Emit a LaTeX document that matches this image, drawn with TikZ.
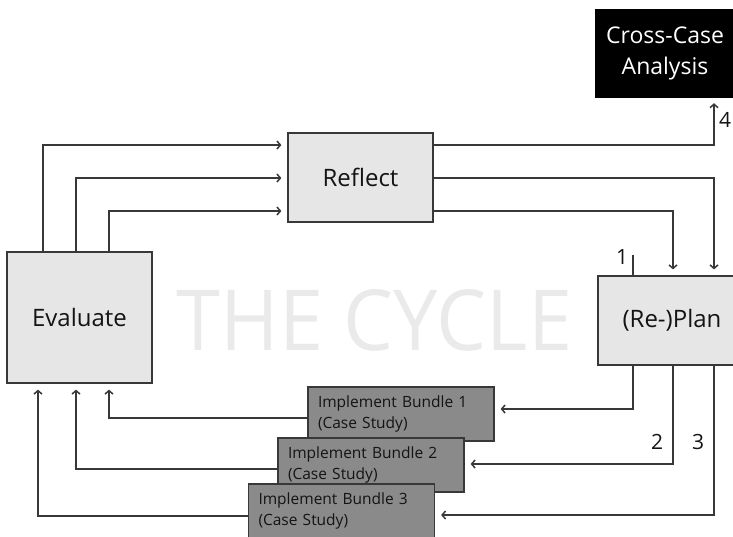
\documentclass[tikz,border=0pt]{standalone}
\usepackage{fontspec}
\usepackage{graphicx}
\setmainfont{Open Sans}
\usetikzlibrary{arrows.meta}
\definecolor{lightbox}{HTML}{E6E6E6}
\definecolor{implfill}{HTML}{8A8A8A}
\definecolor{linecol}{HTML}{383838}
\definecolor{cyclecol}{HTML}{EAEAEA}
\definecolor{txt}{HTML}{141414}
\begin{document}
\begin{tikzpicture}[x=1pt,y=-1pt,
  box/.style={draw=linecol, line width=1.2pt, fill=lightbox, inner sep=0pt, font=\fontsize{24}{28}\selectfont, text=txt},
  impl/.style={draw=linecol, line width=1.2pt, fill=implfill, minimum width=186pt, minimum height=54pt, inner sep=0pt, text width=166pt, align=left, font=\fontsize{15.5}{21}\selectfont, text=txt},
  conn/.style={draw=linecol, line width=1.5pt},
  arr/.style={conn, -{Straight Barb[length=3.5pt,width=8pt]}, shorten >=6pt},
  num/.style={font=\fontsize{21}{24}\selectfont, text=txt, inner sep=0pt}
]
\useasboundingbox (0,0) rectangle (733,536);
\clip (0,0) rectangle (733,536);

\node[text=cyclecol, inner sep=0pt] (cycle) at (374.5,320.5) {\resizebox{395pt}{61pt}{THE CYCLE}};

\node[box, minimum width=145pt, minimum height=89pt] (reflect) at (360.5,177.5) {Reflect};
\node[box, minimum width=145pt, minimum height=131pt] (eval) at (79.5,317.5) {Evaluate};
\node[box, minimum width=148pt, minimum height=89pt] (plan) at (672,320.5) {(Re-)Plan};
\node[draw=black, fill=black, text=white, minimum width=140pt, minimum height=88pt, align=center, inner sep=0pt, font=\fontsize{23}{31}\selectfont] (cross) at (665,53) {Cross-Case\\Analysis};

\node[impl] (impl1) at (401,414) {Implement Bundle 1\\(Case Study)};
\node[impl] (impl2) at (371,465) {Implement Bundle 2\\(Case Study)};
\node[impl] (impl3) at (341.5,511) {Implement Bundle 3\\(Case Study)};

% Evaluate -> Reflect
\draw[arr] (eval.north -| 43,0) |- (reflect.west |- 0,145);
\draw[arr] (eval.north -| 76,0) |- (reflect.west |- 0,178);
\draw[arr] (eval.north -| 109,0) |- (reflect.west |- 0,211);

% Reflect -> Cross-Case / Plan
\draw[arr] (reflect.east |- 0,145) -| (cross.south -| 714,0);
\draw[arr] (reflect.east |- 0,178) -| (plan.north -| 714,0);
\draw[arr] (reflect.east |- 0,211) -| (plan.north -| 673,0);

% tick 1
\coordinate (t1) at (633,255);
\draw[conn] (plan.north -| t1) -- (t1);

% Plan -> Implement
\draw[arr] (plan.south -| 633,0) |- (impl1.east |- 0,409);
\draw[arr] (plan.south -| 673,0) |- (impl2.east |- 0,464);
\draw[arr] (plan.south -| 714,0) |- (impl3.east |- 0,515);

% Implement -> Evaluate
\draw[arr] (impl1.west |- 0,418) -| (eval.south -| 109,0);
\draw[arr] (impl2.west |- 0,469) -| (eval.south -| 76,0);
\draw[arr] (impl3.west |- 0,516) -| (eval.south -| 38,0);

% numbers
\node[num] (n1) at (622,257) {1};
\node[num] (n2) at (657,442) {2};
\node[num] (n3) at (698,442) {3};
\node[num] (n4) at (725,120) {4};
\end{tikzpicture}
\end{document}
